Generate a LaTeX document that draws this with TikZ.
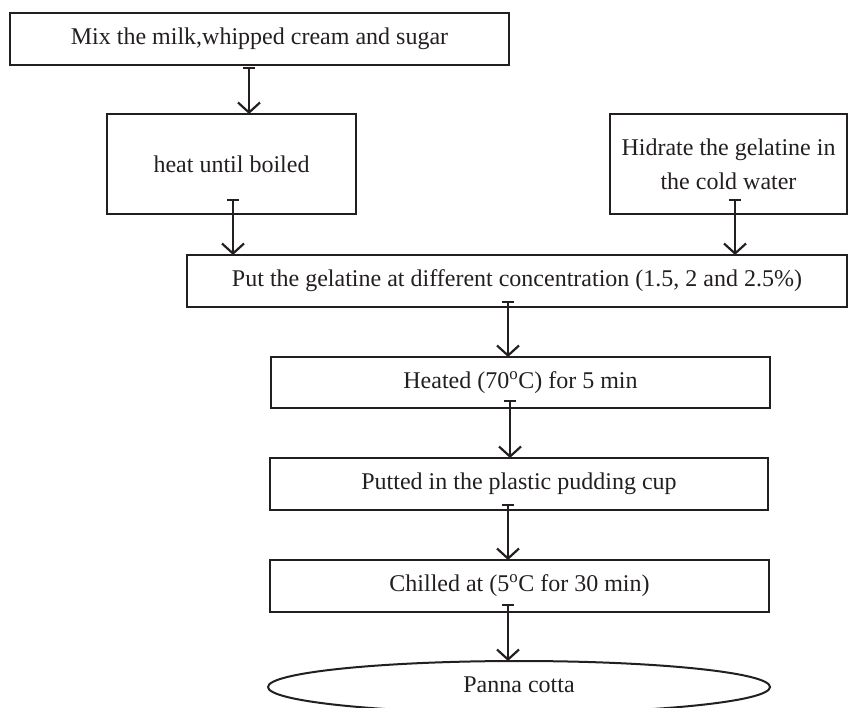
\documentclass[tikz,border=0pt]{standalone}
\usepackage{fontspec}
\setmainfont{Liberation Serif}
\usetikzlibrary{arrows.meta,shapes.geometric}
\definecolor{ink}{HTML}{231F20}
\begin{document}
\begin{tikzpicture}[x=1pt,y=-1pt,
  every node/.style={font=\fontsize{24}{34}\selectfont, text=ink},
  box/.style={draw=ink, line width=2.5pt, inner sep=0pt, outer sep=0pt, align=center},
  arr/.style={draw=ink, line width=2.2pt, arrows={Bar[width=12pt,line width=2.2pt]-Straight Barb[length=10pt,width=22pt,line width=2.2pt]}}]
\useasboundingbox (0,0) rectangle (848,707);
\node[box, minimum width=499pt, minimum height=52pt] (b1) at (259.5,39) {\raisebox{3pt}{Mix the milk,whipped cream and sugar}};
\node[box, minimum width=249pt, minimum height=100pt] (b2) at (231.5,164) {heat until boiled};
\node[box, minimum width=237pt, minimum height=100pt] (hd) at (728.5,164) {Hidrate the gelatine in\\the cold water};
\node[box, minimum width=660pt, minimum height=52pt] (pg) at (517,281) {\raisebox{3pt}{Put the gelatine at different concentration (1.5, 2 and 2.5\%)}};
\node[box, minimum width=499pt, minimum height=51pt] (ht) at (520.5,382.5) {Heated (70\textsuperscript{o}C) for 5 min};
\node[box, minimum width=498pt, minimum height=52pt] (pc) at (519,484) {Putted in the plastic pudding cup};
\node[box, minimum width=499pt, minimum height=52pt] (ch) at (519.5,586) {Chilled at (5\textsuperscript{o}C for 30 min)};
\node[draw=ink, line width=2pt, ellipse, inner sep=0pt, outer sep=0pt, minimum width=502pt, minimum height=52pt] (pn) at (519,687) {\raisebox{4pt}{Panna cotta}};
\coordinate (x1) at (249,0);
\coordinate (x2) at (233,0);
\coordinate (x3) at (735,0);
\coordinate (x4) at (508,0);
\coordinate (x5) at (510,0);
\draw[arr] ([yshift=-2pt]b1.south -| x1) -- (b2.north -| x1);
\draw[arr] ([yshift=15pt]b2.south -| x2) -- (pg.north -| x2);
\draw[arr] ([yshift=15pt]hd.south -| x3) -- (pg.north -| x3);
\draw[arr] ([yshift=6pt]pg.south -| x4) -- (ht.north -| x4);
\draw[arr] ([yshift=8pt]ht.south -| x5) -- (pc.north -| x5);
\draw[arr] ([yshift=6pt]pc.south -| x4) -- (ch.north -| x4);
\draw[arr] ([yshift=8pt]ch.south -| x4) -- (pn.north -| x4);
\end{tikzpicture}
\end{document}
